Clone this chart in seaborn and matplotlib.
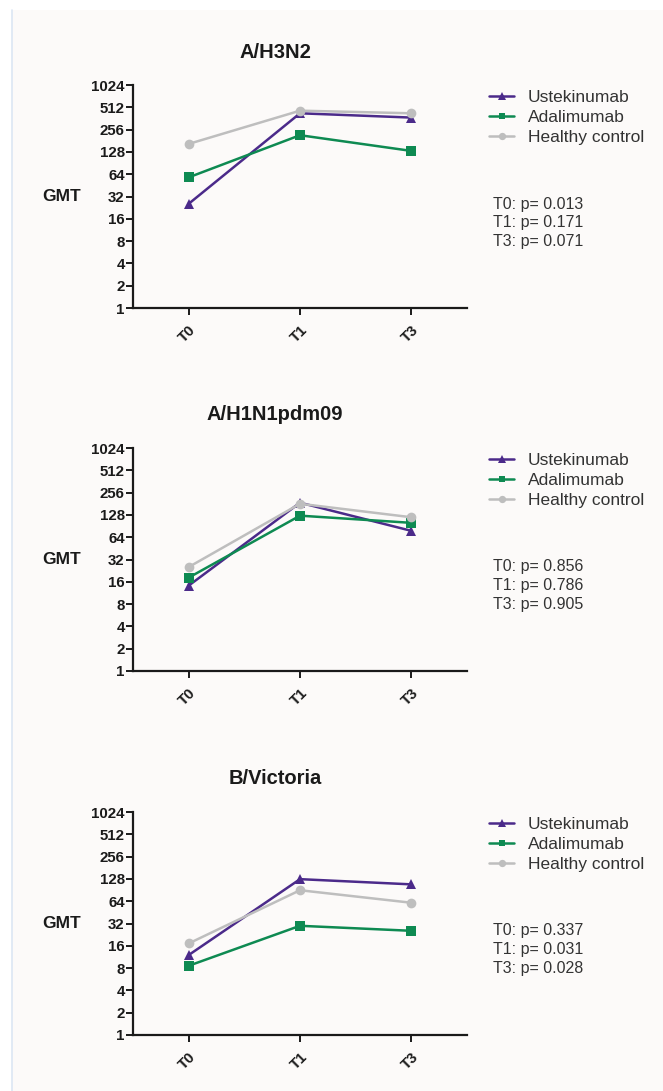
import numpy as np
import pandas as pd
import matplotlib
matplotlib.use("Agg")
import matplotlib.pyplot as plt
import seaborn as sns
from matplotlib.lines import Line2D
from matplotlib.patches import Rectangle

# ---- data ----
timepoints = ["T0", "T1", "T3"]
groups = ["Ustekinumab", "Adalimumab", "Healthy control"]
panel_titles = ["A/H3N2", "A/H1N1pdm09", "B/Victoria"]

h3n2_ustekinumab = [25.5, 425, 372]
h3n2_adalimumab = [58, 215, 132]
h3n2_healthy = [164, 461, 425]

h1n1_ustekinumab = [14.2, 187, 78]
h1n1_adalimumab = [18.2, 125, 100]
h1n1_healthy = [25.3, 181, 119]

bvic_ustekinumab = [12, 127, 108]
bvic_adalimumab = [8.6, 29.8, 25.5]
bvic_healthy = [17.2, 90, 61]

p_texts = [
    ["T0: p= 0.013", "T1: p= 0.171", "T3: p= 0.071"],
    ["T0: p= 0.856", "T1: p= 0.786", "T3: p= 0.905"],
    ["T0: p= 0.337", "T1: p= 0.031", "T3: p= 0.028"],
]
y_ticks = [1, 2, 4, 8, 16, 32, 64, 128, 256, 512, 1024]
y_label = "GMT"

panel_values = [
    [h3n2_ustekinumab, h3n2_adalimumab, h3n2_healthy],
    [h1n1_ustekinumab, h1n1_adalimumab, h1n1_healthy],
    [bvic_ustekinumab, bvic_adalimumab, bvic_healthy],
]

# ---- style ----
sns.set_style("white")
plt.rcParams["font.family"] = ["Liberation Sans", "DejaVu Sans"]

colors = {"Ustekinumab": "#4B2A8A", "Adalimumab": "#0E8A52", "Healthy control": "#BEBEBE"}
markers = {"Ustekinumab": "^", "Adalimumab": "s", "Healthy control": "o"}
msizes = {"Ustekinumab": 7.5, "Adalimumab": 6.5, "Healthy control": 7.0}
bg = "#FCFAF9"

W, H = 663, 1091
fig = plt.figure(figsize=(W / 100, H / 100), dpi=100)
fig.patch.set_facecolor("white")
fig.patches.append(Rectangle((12 / W, 0), 1 - 12 / W, 1 - 10 / H, transform=fig.transFigure,
                             facecolor=bg, edgecolor="none", zorder=-10))
fig.lines.append(Line2D([12 / W, 12 / W], [0, 1 - 10 / H], transform=fig.transFigure,
                        color="#DCE6F3", lw=1.2, zorder=-9))

ax_left, ax_right = 133, 467
tops = [85, 448, 812]
bottoms = [308, 671, 1035]
title_y = [52, 415, 779]

for i in range(3):
    left = ax_left / W
    width = (ax_right - ax_left) / W
    bottom = 1 - bottoms[i] / H
    height = (bottoms[i] - tops[i]) / H
    ax = fig.add_axes([left, bottom, width, height])
    ax.set_facecolor("none")

    rows = []
    for g, vals in zip(groups, panel_values[i]):
        for t, v in zip(timepoints, vals):
            rows.append({"time": t, "gmt": v, "group": g})
    df = pd.DataFrame(rows)

    for g in groups:
        sub = df[df["group"] == g]
        sns.lineplot(data=sub, x="time", y="gmt", ax=ax, color=colors[g], marker=markers[g],
                     markersize=msizes[g], markeredgewidth=0, linewidth=1.8, legend=False,
                     sort=False)

    ax.set_yscale("log", base=2)
    ax.set_ylim(1, 1024)
    ax.set_yticks(y_ticks)
    ax.set_yticklabels([str(v) for v in y_ticks])
    ax.yaxis.set_minor_locator(matplotlib.ticker.NullLocator())
    ax.set_xlim(-0.5, 2.5)
    ax.set_xticks(range(len(timepoints)))
    ax.set_xticklabels(timepoints)
    ax.set_xlabel("")
    ax.set_ylabel("")

    for s in ["top", "right"]:
        ax.spines[s].set_visible(False)
    for s in ["left", "bottom"]:
        ax.spines[s].set_linewidth(1.6)
        ax.spines[s].set_color("#1a1a1a")
    ax.tick_params(axis="y", which="major", direction="out", length=5, width=1.4,
                   color="#1a1a1a", left=True, pad=1.0)
    ax.tick_params(axis="x", which="major", direction="out", length=5, width=1.4,
                   color="#1a1a1a", bottom=True, pad=6)
    for lab in ax.get_yticklabels():
        lab.set_fontsize(10.8)
        lab.set_fontweight("bold")
        lab.set_color("#1a1a1a")
    for lab in ax.get_xticklabels():
        lab.set_fontsize(10.8)
        lab.set_fontweight("bold")
        lab.set_color("#1a1a1a")
        lab.set_rotation(45)
        lab.set_ha("right")
        lab.set_rotation_mode("anchor")

    # title
    fig.text(275 / W, 1 - title_y[i] / H, panel_titles[i], ha="center", va="center",
             fontsize=14.5, fontweight="bold", color="#1a1a1a")
    # GMT label
    fig.text(62 / W, 1 - ((tops[i] + bottoms[i]) / 2) / H, y_label, ha="center", va="center",
             fontsize=12.5, fontweight="bold", color="#1a1a1a")

    # legend
    handles = [Line2D([0], [0], color=colors[g], marker=markers[g], markersize=msizes[g] * 0.75,
                      markeredgewidth=0, lw=1.8) for g in groups]
    leg = ax.legend(handles, groups, loc="upper left",
                    bbox_to_anchor=((489 - ax_left) / (ax_right - ax_left), 1 - 5 / 223),
                    frameon=False, fontsize=12.5, handlelength=1.45, handletextpad=0.8,
                    labelspacing=0.28, borderpad=0, borderaxespad=0)
    for t in leg.get_texts():
        t.set_color("#333333")

    # p values
    for k, line in enumerate(p_texts[i]):
        ax.text((493 - ax_left) / (ax_right - ax_left), 1 - (119 + 18.5 * k) / 223, line,
                transform=ax.transAxes, ha="left", va="center", fontsize=11.5, color="#333333",
                clip_on=False)

fig.savefig("out.png", dpi=100, facecolor=fig.get_facecolor())
